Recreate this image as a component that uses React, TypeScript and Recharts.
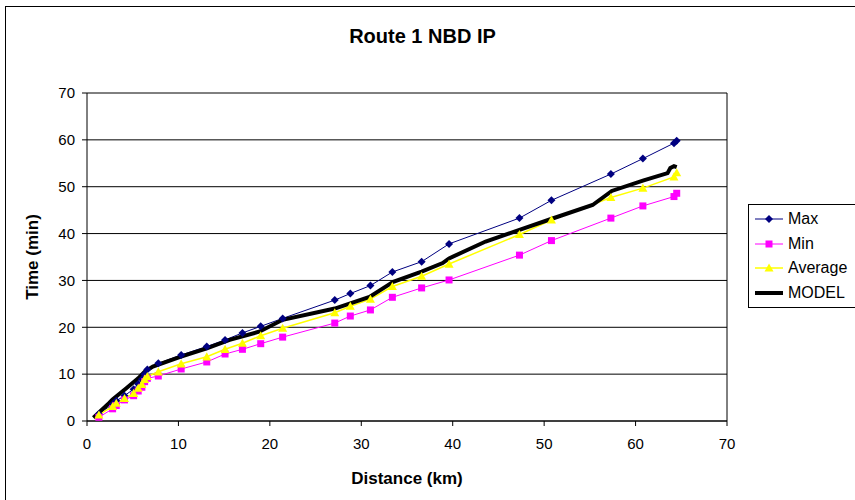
import React from "react";
import { LineChart, Line, XAxis, YAxis, CartesianGrid, ReferenceLine } from "recharts";

// bus stops along the route (km) and the observed times at each stop (min)
const stopKm = [1.3, 2.8, 3.2, 4.1, 5.1, 5.6, 6.0, 6.3, 6.6, 7.8, 10.3, 13.1, 15.1, 17.0, 19.0, 21.4, 27.1, 28.8, 31.0, 33.4, 36.6, 39.6, 47.3, 50.8, 57.3, 60.8, 64.2, 64.5];
const maxTime = [1.5, 3.6, 4.3, 5.4, 6.8, 7.9, 8.9, 10.0, 11.0, 12.3, 14.1, 15.9, 17.3, 18.8, 20.2, 21.9, 25.8, 27.2, 28.9, 31.8, 34.0, 37.8, 43.3, 47.1, 52.7, 56.0, 59.3, 59.8];
const minTime = [0.8, 2.6, 3.3, 4.5, 5.4, 6.4, 7.2, 8.4, 9.1, 9.6, 11.1, 12.6, 14.3, 15.3, 16.5, 17.9, 20.9, 22.4, 23.7, 26.4, 28.4, 30.1, 35.4, 38.5, 43.3, 45.9, 47.9, 48.6];
const avgTime = [1.3, 3.1, 3.8, 4.8, 5.9, 7.0, 7.8, 8.9, 9.5, 10.5, 12.2, 13.7, 15.3, 16.6, 18.2, 19.8, 23.1, 24.5, 26.0, 28.7, 30.9, 33.5, 39.8, 42.9, 47.7, 49.7, 52.1, 53.0];

// model curve
const modelKm = [0.7, 1.4, 2.4, 2.8, 4.3, 5.6, 6.3, 7.2, 10.2, 13.1, 15.6, 18.9, 21.4, 27.1, 30.9, 33.5, 36.6, 38.9, 39.6, 43.6, 47.3, 50.6, 55.3, 57.4, 60.8, 63.5, 63.8, 64.2, 64.5];
const modelTime = [0.7, 2.0, 3.8, 4.6, 7.0, 9.1, 10.5, 11.6, 13.7, 15.5, 17.3, 19.1, 21.6, 24.0, 26.5, 29.7, 31.9, 33.7, 34.7, 38.3, 40.8, 43.0, 46.1, 49.1, 51.3, 52.9, 54.0, 54.4, 54.2];

const ticks = [0, 10, 20, 30, 40, 50, 60, 70];

const toPoints = (xs: number[], ys: number[]) => xs.map((x, i) => ({ km: x, t: ys[i] }));

const NAVY = "#000080";
const MAGENTA = "#FF00FF";
const YELLOW = "#FFFF00";
const FONT = "Arial, 'Liberation Sans', sans-serif";

const diamond = (cx: number, cy: number, r: number) =>
  `M${cx},${cy - r}L${cx + r},${cy}L${cx},${cy + r}L${cx - r},${cy}Z`;
const triangle = (cx: number, cy: number, r: number) =>
  `M${cx},${cy - r}L${cx + r},${cy + r * 0.8}L${cx - r},${cy + r * 0.8}Z`;

const DiamondDot = (p: any) => {
  if (p.cx == null) return <g key={p.index} />;
  return <path key={p.index} d={diamond(p.cx, p.cy, 4)} fill={NAVY} />;
};
const SquareDot = (p: any) => {
  if (p.cx == null) return <g key={p.index} />;
  return <rect key={p.index} x={p.cx - 3.5} y={p.cy - 3.5} width={7} height={7} fill={MAGENTA} />;
};
const TriangleDot = (p: any) => {
  if (p.cx == null) return <g key={p.index} />;
  return <path key={p.index} d={triangle(p.cx, p.cy, 4.5)} fill={YELLOW} />;
};

function LegendBox() {
  const items = [
    { name: "Max", color: NAVY, w: 1, mark: "d" },
    { name: "Min", color: MAGENTA, w: 1, mark: "s" },
    { name: "Average", color: YELLOW, w: 1.5, mark: "t" },
    { name: "MODEL", color: "#000", w: 4, mark: "" },
  ];
  return (
    <div
      style={{
        position: "absolute",
        left: 748,
        top: 204,
        width: 130,
        height: 102,
        border: "1px solid #000",
        background: "#fff",
        fontFamily: FONT,
        fontSize: 16,
      }}
    >
      {items.map((it, i) => (
        <div key={it.name} style={{ position: "absolute", left: 5, top: 4 + i * 24.5, height: 20, display: "flex", alignItems: "center" }}>
          <svg width={30} height={20}>
            <line x1={1} x2={29} y1={10} y2={10} stroke={it.color} strokeWidth={it.w} />
            {it.mark === "d" && <path d={diamond(15, 10, 4)} fill={it.color} />}
            {it.mark === "s" && <rect x={11.5} y={6.5} width={7} height={7} fill={it.color} />}
            {it.mark === "t" && <path d={triangle(15, 10, 4.5)} fill={it.color} />}
          </svg>
          <span style={{ marginLeft: 4, whiteSpace: "nowrap" }}>{it.name}</span>
        </div>
      ))}
    </div>
  );
}

export default function App() {
  const tickStyle = { fill: "#000", fontSize: 15, fontFamily: FONT };
  return (
    <div style={{ position: "absolute", left: 0, top: 0, width: 855, height: 500, overflow: "hidden", background: "#fff" }}>
      <div style={{ position: "absolute", left: 5, top: 6, width: 900, height: 600, border: "1px solid #000" }} />
      <div
        style={{
          position: "absolute",
          left: 0,
          width: 845,
          top: 25,
          textAlign: "center",
          fontFamily: FONT,
          fontWeight: "bold",
          fontSize: 20,
        }}
      >
        Route 1 NBD IP
      </div>
      <div
        style={{
          position: "absolute",
          left: 87,
          width: 640,
          top: 469,
          textAlign: "center",
          fontFamily: FONT,
          fontWeight: "bold",
          fontSize: 17,
        }}
      >
        Distance (km)
      </div>
      <div
        style={{
          position: "absolute",
          left: 33,
          top: 257,
          transform: "translate(-50%, -50%) rotate(-90deg)",
          whiteSpace: "nowrap",
          fontFamily: FONT,
          fontWeight: "bold",
          fontSize: 17,
        }}
      >
        Time (min)
      </div>
      <div style={{ position: "absolute", left: 0, top: 0 }}>
        <LineChart width={855} height={500} margin={{ top: 93, right: 128, left: 0, bottom: 0 }}>
          <CartesianGrid vertical={false} stroke="#000" strokeWidth={1} />
          <XAxis
            type="number"
            dataKey="km"
            domain={[0, 70]}
            ticks={ticks}
            height={79}
            stroke="#000"
            tickSize={5}
            tickMargin={12}
            tick={tickStyle}
            allowDuplicatedCategory={false}
          />
          <YAxis
            type="number"
            dataKey="t"
            domain={[0, 70]}
            ticks={ticks}
            width={87}
            stroke="#000"
            tickSize={5}
            tickMargin={7}
            tick={tickStyle}
          />
          <ReferenceLine x={70} stroke="#000" />
          <Line
            data={toPoints(stopKm, maxTime)}
            dataKey="t"
            name="Max"
            type="linear"
            stroke={NAVY}
            strokeWidth={1}
            dot={DiamondDot}
            isAnimationActive={false}
          />
          <Line
            data={toPoints(stopKm, minTime)}
            dataKey="t"
            name="Min"
            type="linear"
            stroke={MAGENTA}
            strokeWidth={1}
            dot={SquareDot}
            isAnimationActive={false}
          />
          <Line
            data={toPoints(stopKm, avgTime)}
            dataKey="t"
            name="Average"
            type="linear"
            stroke={YELLOW}
            strokeWidth={1.5}
            dot={TriangleDot}
            isAnimationActive={false}
          />
          <Line
            data={toPoints(modelKm, modelTime)}
            dataKey="t"
            name="MODEL"
            type="linear"
            stroke="#000"
            strokeWidth={4}
            dot={false}
            isAnimationActive={false}
          />
        </LineChart>
      </div>
      <LegendBox />
    </div>
  );
}
